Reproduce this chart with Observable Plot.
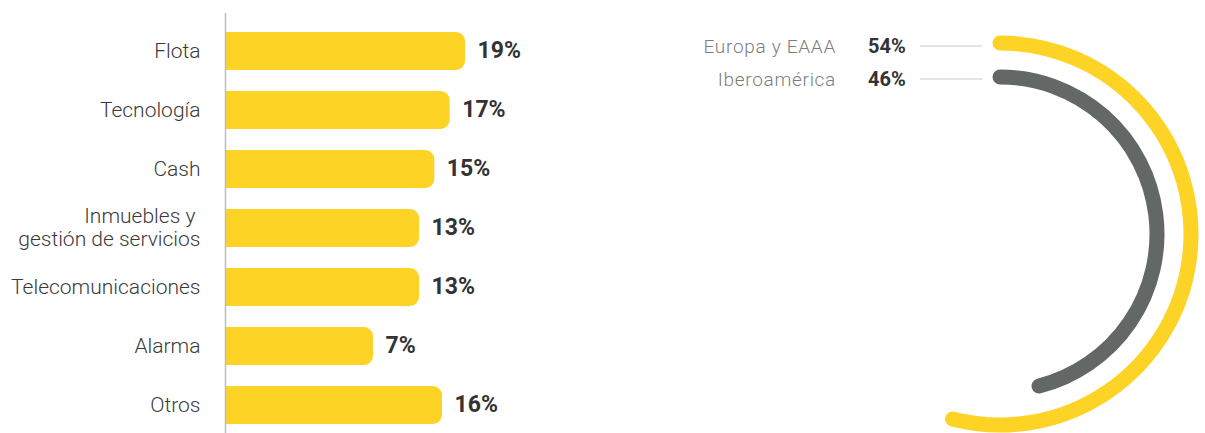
<!DOCTYPE html>
<html><head><meta charset="utf-8">
<script src="https://cdn.jsdelivr.net/npm/d3@7"></script>
<script src="https://cdn.jsdelivr.net/npm/@observablehq/plot@0.6"></script>
<style>
html,body{margin:0;padding:0;background:#fff;}
#chart{width:1205px;height:433px;}
</style></head><body><div id="chart"></div>
<script>
// ---- data ----
const categories = ["Flota", "Tecnología", "Cash", "Inmuebles y\u00a0\ngestión de servicios", "Telecomunicaciones", "Alarma", "Otros"];
const values = [19, 17, 15, 13, 13, 7, 16];
const regions = ["Europa y EAAA", "Iberoamérica"];
const shares = [54, 46];
const regionColors = ["#FDD325", "#636766"];

const bars = categories.map((c, i) => ({category: c, value: values[i]}));
const ring = regions.map((r, i) => ({region: r, share: shares[i], color: regionColors[i]}));

// ---- layout ----
const xBase = -12.3;          // visual baseline of bars
const BAR = "#FDD325";
const FONT = "Roboto, 'Noto Sans', sans-serif";

function ringMark() {
  const g = d3.create("svg:g").attr("font-family", FONT);
  const angle = Plot.scale({x: {domain: [0, 100], range: [0, 2 * Math.PI]}});
  const radius = Plot.scale({x: {type: "point", domain: regions, range: [191, 157], padding: 0}});
  const row = Plot.scale({y: {type: "point", domain: regions, range: [46, 79], padding: 0}});
  const cx = 1000, cy = 234;
  for (const d of ring) {
    const p = d3.path();
    const a0 = -Math.PI / 2;
    p.arc(cx, cy, radius.apply(d.region), a0, a0 + angle.apply(d.share));
    g.append("path").attr("d", p.toString())
      .attr("fill", "none").attr("stroke", d.color)
      .attr("stroke-width", 15).attr("stroke-linecap", "round");
    const y = row.apply(d.region);
    g.append("text").attr("x", 836).attr("y", y).attr("dy", "0.35em")
      .attr("text-anchor", "end").attr("font-size", 19).attr("font-weight", 300)
      .attr("letter-spacing", "0.7px")
      .attr("fill", "#7d7d7d").text(d.region);
    g.append("text").attr("x", 868).attr("y", y).attr("dy", "0.35em")
      .attr("text-anchor", "start").attr("font-size", 20).attr("font-weight", 700)
      .attr("fill", "#333").text(d.share + "%");
    g.append("line").attr("x1", 920).attr("x2", 982).attr("y1", y).attr("y2", y)
      .attr("stroke", "#c9c9c9").attr("stroke-width", 1.2);
  }
  return g.node();
}

const chart = Plot.plot({
  width: 1205,
  height: 433,
  marginLeft: 225,
  marginRight: 0,
  marginTop: 13,
  marginBottom: 0,
  x: {domain: [xBase, 115.5], axis: null},
  y: {domain: categories, range: [31, 424], paddingInner: 0.358, paddingOuter: 0, axis: null},
  style: {fontFamily: FONT, background: "#fff", overflow: "visible"},
  marks: [
    Plot.barX(bars, {x1: () => xBase, x2: "value", y: "category", fill: BAR, rx: 9}),
    Plot.barX(bars, {x1: () => xBase, x2: d => (xBase + d.value) / 2, y: "category", fill: BAR}),
    Plot.ruleX([xBase], {stroke: "#bdbdbd", strokeWidth: 1.5}),
    Plot.text(bars, {x: "value", y: "category", text: d => d.value + "%", dx: 12, dy: -1, textAnchor: "start",
      fontSize: 23, fontWeight: "bold", fill: "#333"}),
    Plot.text(bars, {x: () => xBase, y: "category", text: "category", dx: -25, dy: -1, textAnchor: "end",
      fontSize: 21, fontWeight: 300, fill: "#3a3a3a", lineHeight: 1.1}),
    ringMark
  ]
});
document.getElementById("chart").appendChild(chart);
</script></body></html>
